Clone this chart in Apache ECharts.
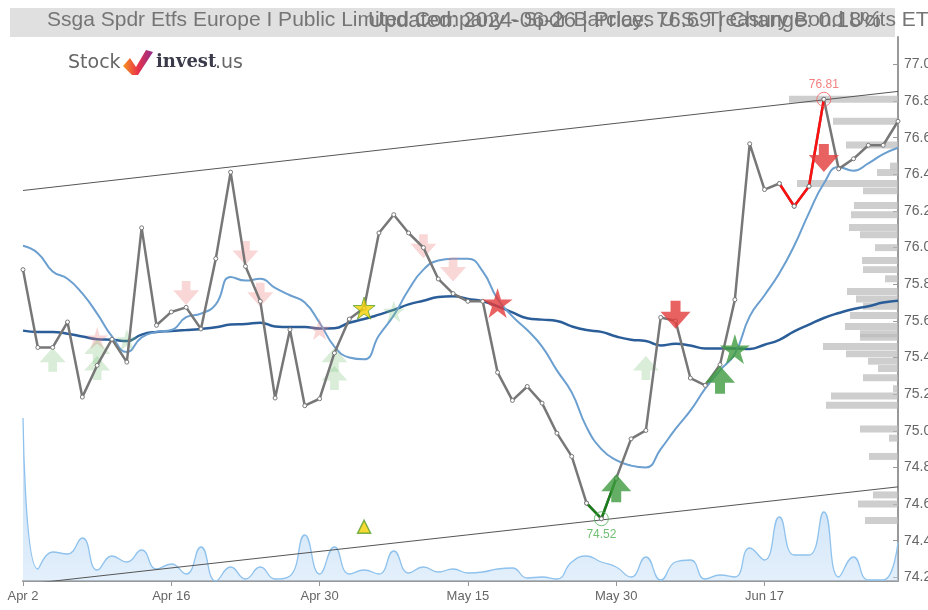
<!DOCTYPE html>
<html><head><meta charset="utf-8">
<script src="https://cdn.jsdelivr.net/npm/echarts@6/dist/echarts.min.js"></script>
<style>html,body{margin:0;padding:0;background:#fff}#c{width:928px;height:610px}</style>
</head><body><div id="c"></div>
<script>
const dates = [
  "2024-04-02","2024-04-03","2024-04-04","2024-04-05","2024-04-08","2024-04-09","2024-04-10","2024-04-11","2024-04-12","2024-04-15",
  "2024-04-16","2024-04-17","2024-04-18","2024-04-19","2024-04-22","2024-04-23","2024-04-24","2024-04-25","2024-04-26","2024-04-29",
  "2024-04-30","2024-05-01","2024-05-02","2024-05-03","2024-05-07","2024-05-08","2024-05-09","2024-05-10","2024-05-13","2024-05-14",
  "2024-05-15","2024-05-16","2024-05-17","2024-05-20","2024-05-21","2024-05-22","2024-05-23","2024-05-24","2024-05-28","2024-05-29",
  "2024-05-30","2024-05-31","2024-06-03","2024-06-04","2024-06-05","2024-06-06","2024-06-07","2024-06-10","2024-06-11","2024-06-12",
  "2024-06-13","2024-06-14","2024-06-17","2024-06-18","2024-06-19","2024-06-20","2024-06-21","2024-06-24","2024-06-25","2024-06-26"
];
const tickLabels = ["Apr 2","Apr 16","Apr 30","May 15","May 30","Jun 17"];
const priceTicks = [74.2,74.4,74.6,74.8,75.0,75.2,75.4,75.6,75.8,76.0,76.2,76.4,76.6,76.8,77.0];

const price = [
  75.88,75.455,75.455,75.594,75.184,75.357,75.50,75.375,76.108,75.576,
  75.649,75.674,75.556,75.94,76.412,75.898,75.707,75.179,75.552,75.137,
  75.175,75.425,75.61,75.67,76.08,76.18,76.08,76.0,75.829,75.749,
  75.707,75.707,75.319,75.166,75.242,75.151,74.987,74.86,74.605,74.52,
  74.74,74.956,75.002,75.619,75.60,75.288,75.248,75.361,75.716,76.567,
  76.317,76.35,76.226,76.335,76.81,76.43,76.485,76.559,76.559,76.69
];
const maFast = [
  76.01,75.97,75.87,75.83,75.75,75.64,75.515,75.43,75.51,75.54,
  75.55,75.62,75.64,75.69,75.84,75.82,75.83,75.78,75.74,75.70,
  75.59,75.46,75.40,75.39,75.52,75.63,75.77,75.88,75.93,75.94,
  75.94,75.87,75.72,75.625,75.55,75.46,75.33,75.21,75.02,74.90,
  74.84,74.81,74.80,74.90,75.01,75.11,75.23,75.33,75.42,75.625,
  75.74,75.86,76.01,76.19,76.35,76.44,76.42,76.46,76.51,76.545
];
const maSlow = [
  75.547,75.54,75.54,75.53,75.515,75.50,75.497,75.49,75.525,75.54,
  75.545,75.55,75.556,75.565,75.58,75.583,75.59,75.57,75.567,75.567,
  75.558,75.56,75.59,75.61,75.634,75.66,75.69,75.71,75.73,75.734,
  75.72,75.707,75.68,75.647,75.615,75.607,75.60,75.57,75.55,75.54,
  75.515,75.497,75.49,75.466,75.475,75.466,75.45,75.45,75.45,75.447,
  75.47,75.497,75.543,75.58,75.616,75.643,75.665,75.68,75.70,75.71
];
// volume, thousands of shares
const volume = [
  16.3,1.2,2.9,2.7,4.3,1.1,2.5,1.9,3.1,1.2,
  1.7,0.7,3.4,0.0,1.4,0.2,1.4,0.2,0.5,4.6,
  0.7,3.4,0.7,1.1,0.7,3.0,0.8,1.4,0.9,1.2,
  0.8,0.9,1.2,1.3,0.3,0.4,0.2,1.9,2.5,1.9,
  1.4,0.4,2.4,0.1,1.9,2.1,0.2,0.6,0.4,3.3,
  2.1,6.4,2.6,2.6,6.9,0.4,2.4,0.1,0.1,3.9
];
// volume-at-price profile
const profilePrice = [76.81,76.69,76.56,76.445,76.41,76.35,76.31,76.23,76.18,76.11,76.07,76.00,75.93,75.88,75.83,75.76,75.72,75.68,75.63,75.57,75.53,75.51,75.46,75.42,75.38,75.34,75.29,75.23,75.19,75.14,75.01,74.96,74.86,74.65,74.60,74.51];
const profileVolume = [109,65,52,8,21,101,35,44,47,49,38,23,36,35,13,51,42,35,48,53,38,38,75,52,30,20,35,5,67,72,38,9,29,25,40,33];

// trend channel end points [index, price]
const channelUpper = [[0,76.312],[59,76.853]];
const channelLower = [[0,74.161],[59,74.694]];

// signals [index, price]
const fadedSellArrows = [[11,75.753],[15,75.971],[16,75.743],[27,76.007],[29,75.88]];
const fadedSellStars = [[5,75.507],[20,75.556]];
const fadedBuyArrows = [[2,75.388],[5,75.433],[5,75.343],[21,75.388],[21,75.288],[42,75.343]];
const fadedBuyStars = [[7,75.497],[25,75.652]];
const sellArrows = [[44,75.634],[54,76.49]];
const sellStars = [[32,75.698]];
const buyArrows = [[40,74.687],[47,75.279]];
const buyStars = [[48,75.447]];
const neutralStars = [[23,75.67]];
const triangles = [[23,74.476]];
const highPoint = [[54,76.81]];
const lowPoint = [[39,74.52]];
const redSegment = [51,52,53,54];
const greenSegment = [38,39,40];

const UP = 'path://M15 0 L30 17 L20 17 L20 28 L10 28 L10 17 L0 17 Z';
const DOWN = 'path://M10 0 L20 0 L20 11 L30 11 L15 28 L0 11 L10 11 Z';
const STAR = 'path://M50 0 L61 35 L98 35 L68 57 L79 91 L50 70 L21 91 L32 57 L2 35 L39 35 Z';

function segment(idxs){ return price.map((v,i)=> idxs.indexOf(i)>=0 ? v : null); }

const chart = echarts.init(document.getElementById('c'), null, {renderer:'canvas'});
const priceMarker = {symbol:'circle', symbolSize:4, itemStyle:{color:'#fff', borderColor:'#777', borderWidth:1}};

function sc(name, data, symbol, size, color, z, extra){
  return Object.assign({name, type:'scatter', data, symbol, symbolSize:size, z,
    itemStyle:{color}, silent:true}, extra||{});
}

chart.setOption({
  animation:false,
  textStyle:{fontFamily:'Liberation Sans, Arial, sans-serif'},
  title:[
    {text:'Ssga Spdr Etfs Europe I Public Limited Company - Spdr Barclays U.S. Treasury Bond Ucits ETF', left:47, top:10, padding:0,
     textStyle:{fontSize:21, fontWeight:'normal', color:'#757575', fontFamily:'Liberation Sans'}},
    {text:'Updated: 2024-06-26 | Price: 76.69 | Change: 0.18%', left:368, top:10, padding:0,
     textStyle:{fontSize:22, fontWeight:'normal', color:'#757575', fontFamily:'Liberation Sans'}}
  ],
  graphic:[
    {type:'rect', z:-1, shape:{x:10,y:8,width:885,height:29}, style:{fill:'#e0e0e0'}, silent:true},
    {type:'text', left:68, top:54, style:{text:'Stock', font:'19px "DejaVu Sans"', fill:'#666'}},
    {type:'polygon', shape:{points:[[123,66],[130,58],[136,67],[146,50],[153,52],[138,75],[132,75]]},
     style:{fill:new echarts.graphic.LinearGradient(0,0,1,0,[{offset:0,color:'#f7941d'},{offset:0.5,color:'#e8334a'},{offset:1,color:'#8e2a8e'}])}},
    {type:'text', left:156, top:53, style:{text:'invest', font:'bold 18px "DejaVu Serif"', fill:'#3a3a4a'}},
    {type:'text', left:215, top:54, style:{text:'.us', font:'19px "DejaVu Sans"', fill:'#666'}}
  ],
  grid:{left:23, right:30, top:37, bottom:29, containLabel:false, outerBoundsMode:'none'},
  xAxis:[
    {type:'category', data:dates, boundaryGap:false,
     axisLine:{lineStyle:{color:'#999', width:2}},
     axisTick:{interval:9, length:5, lineStyle:{color:'#999'}},
     axisLabel:{interval:9, margin:9, color:'#666', fontSize:13,
       formatter:(v,i)=> tickLabels[Math.round(i/10)] || ''},
     splitLine:{show:false}},
    {type:'value', inverse:true, min:0, max:875, show:false}
  ],
  yAxis:[
    {type:'value', position:'right', min:74.18, max:77.15, scale:true,
     axisLine:{show:true, lineStyle:{color:'#999', width:2}},
     axisTick:{show:true, inside:true, length:5, customValues:priceTicks, lineStyle:{color:'#999'}},
     axisLabel:{customValues:priceTicks, margin:6, color:'#666', fontSize:14, formatter:v=>v.toFixed(2)},
     splitLine:{show:false}},
    {type:'value', min:0, max:54.4, show:false}
  ],
  series:[
    {name:'Volume', type:'line', xAxisIndex:0, yAxisIndex:1, data:volume, smooth:true, symbol:'none', z:1,
     lineStyle:{color:'#8fc2ec', width:1.3},
     areaStyle:{color:new echarts.graphic.LinearGradient(0,0,0,1,[{offset:0,color:'rgba(110,170,230,0.6)'},{offset:1,color:'rgba(195,222,248,0.65)'}])}},
    {name:'Profile', type:'custom', xAxisIndex:1, yAxisIndex:0, z:2, silent:true,
     data: profilePrice.map((p,i)=>[profileVolume[i], p]),
     renderItem:(params, api)=>{
       const a = api.coord([api.value(0), api.value(1)]);
       const b = api.coord([0, api.value(1)]);
       const h = api.size([0, 0.038])[1];
       return {type:'rect', shape:{x:a[0], y:a[1]-h/2, width:b[0]-a[0], height:h}, style:{fill:'rgba(185,185,185,0.7)'}};
     }},
    {name:'Upper', type:'line', data:channelUpper, symbol:'none', z:3, lineStyle:{color:'#555', width:1}, silent:true},
    {name:'Lower', type:'line', data:channelLower, symbol:'none', z:3, lineStyle:{color:'#555', width:1}, silent:true},
    {name:'MA slow', type:'line', data:maSlow, smooth:true, symbol:'none', z:4, lineStyle:{color:'#2b5e99', width:2.5}},
    {name:'MA fast', type:'line', data:maFast, smooth:true, symbol:'none', z:4, lineStyle:{color:'#6b9fd0', width:2}},
    sc('Faded sell arrows', fadedSellArrows, DOWN, [26,24], 'rgba(240,130,130,0.4)', 5),
    sc('Faded sell stars', fadedSellStars, STAR, 22, 'rgba(240,130,130,0.4)', 5),
    sc('Faded buy arrows', fadedBuyArrows, UP, [26,24], 'rgba(120,190,120,0.35)', 5),
    sc('Faded buy stars', fadedBuyStars, STAR, 22, 'rgba(120,190,120,0.35)', 5),
    Object.assign({name:'Price', type:'line', data:price, z:6, lineStyle:{color:'#777', width:2.5}}, priceMarker),
    Object.assign({name:'Down run', type:'line', data:segment(redSegment), z:7, lineStyle:{color:'#ff1010', width:2.5}}, priceMarker),
    Object.assign({name:'Up run', type:'line', data:segment(greenSegment), z:7, lineStyle:{color:'#1a7d1a', width:2.5}}, priceMarker),
    sc('Sell arrows', sellArrows, DOWN, [30,28], '#e23b3b', 8),
    sc('Sell stars', sellStars, STAR, 30, '#e23b3b', 8),
    sc('Buy arrows', buyArrows, UP, [30,28], '#3e9a3e', 8),
    sc('Buy stars', buyStars, STAR, 30, '#3e9a3e', 8),
    sc('Neutral stars', neutralStars, STAR, 22, '#f5d000', 8, {itemStyle:{color:'#f5d000', borderColor:'#5aa02c', borderWidth:1}}),
    sc('Triangles', triangles, 'triangle', 13, '#f5d000', 8, {itemStyle:{color:'#f5d000', borderColor:'#5aa02c', borderWidth:1.5}}),
    sc('High', highPoint, 'circle', 14, 'transparent', 9, {itemStyle:{color:'transparent', borderColor:'#f06060', borderWidth:1},
      label:{show:true, position:'top', distance:1, formatter:p=>p.value[1].toFixed(2), color:'#f06060', fontSize:12}}),
    sc('Low', lowPoint, 'circle', 14, 'transparent', 9, {itemStyle:{color:'transparent', borderColor:'#4caf50', borderWidth:1},
      label:{show:true, position:'bottom', distance:2, formatter:p=>p.value[1].toFixed(2), color:'#4caf50', fontSize:12}})
  ]
});
</script></body></html>
